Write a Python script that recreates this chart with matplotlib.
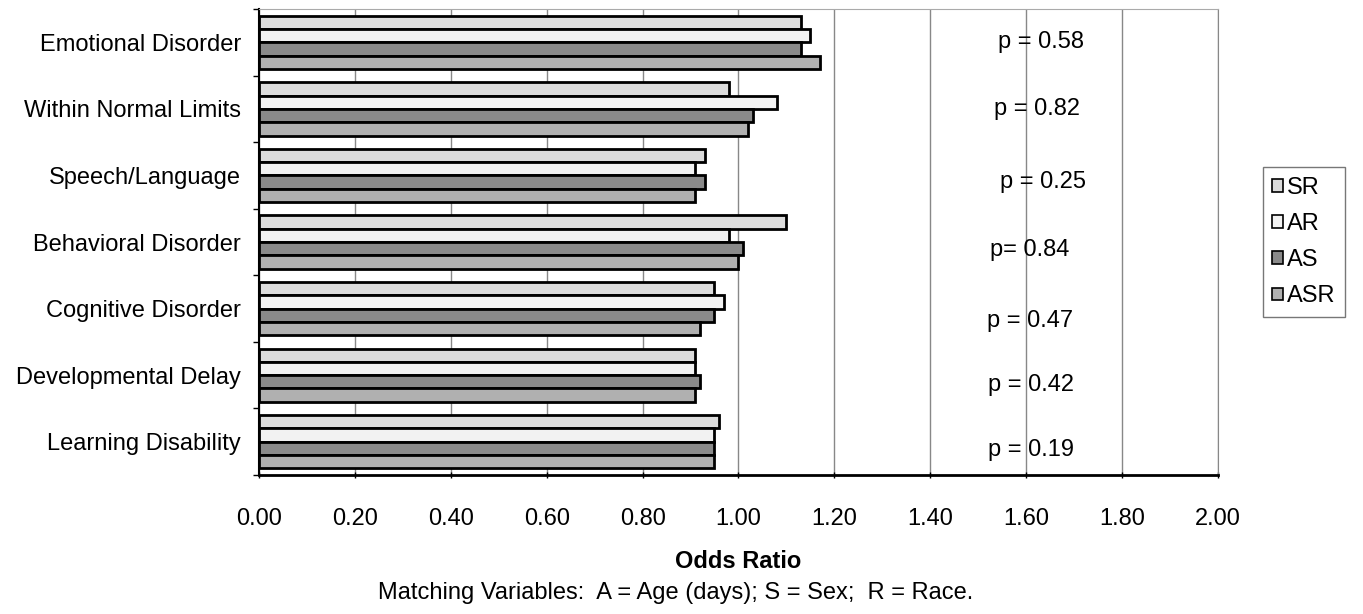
import matplotlib
matplotlib.use("Agg")
import matplotlib.pyplot as plt
import numpy as np

categories = ["Emotional Disorder", "Within Normal Limits", "Speech/Language",
              "Behavioral Disorder", "Cognitive Disorder", "Developmental Delay",
              "Learning Disability"]
series_names = ["SR", "AR", "AS", "ASR"]
SR = [1.13, 0.98, 0.93, 1.10, 0.95, 0.91, 0.96]
AR = [1.15, 1.08, 0.91, 0.98, 0.97, 0.91, 0.95]
AS = [1.13, 1.03, 0.93, 1.01, 0.95, 0.92, 0.95]
ASR = [1.17, 1.02, 0.91, 1.00, 0.92, 0.91, 0.95]
p_labels = ["p = 0.58", "p = 0.82", "p = 0.25", "p= 0.84", "p = 0.47", "p = 0.42", "p = 0.19"]
x_ticks = [0.0, 0.2, 0.4, 0.6, 0.8, 1.0, 1.2, 1.4, 1.6, 1.8, 2.0]

colors = ["#dcdcdc", "#f2f2f2", "#8a8a8a", "#b0b0b0"]
plt.rcParams['font.family'] = ['Liberation Sans', 'DejaVu Sans']
FS = 17

fig = plt.figure(figsize=(13.63, 6.14), dpi=100)
ax = fig.add_axes([0.19, 0.2264, 0.7036, 0.7589])

n = len(categories)
ypos = np.arange(n)
h = 0.2
values = [SR, AR, AS, ASR]
for i, (name, vals, c) in enumerate(zip(series_names, values, colors)):
    ax.barh(ypos - 0.3 + i * h, vals, height=h, color=c, edgecolor="black",
            linewidth=2.0, label=name, zorder=3)

ax.set_ylim(n - 0.5, -0.5)
ax.set_xlim(0, 2.0)
ax.set_xticks(x_ticks)
ax.set_xticklabels([f"{v:.2f}" for v in x_ticks], fontsize=FS)
ax.set_yticks(ypos)
ax.set_yticklabels(categories, fontsize=FS)
ax.tick_params(axis='y', length=0, pad=13)
ax.set_yticks(np.arange(n + 1) - 0.5, minor=True)
ax.tick_params(axis='y', which='minor', length=4, width=1)
ax.tick_params(axis='x', length=5, width=1, pad=21, direction='inout')

ax.grid(axis='x', color='#888888', linewidth=1.0, zorder=0)
ax.spines['left'].set_linewidth(1.5)
ax.spines['bottom'].set_linewidth(2.0)
ax.spines['top'].set_color('#aaaaaa')
ax.spines['right'].set_color('#888888')

p_x = [1.631, 1.622, 1.635, 1.608, 1.608, 1.610, 1.610]
p_dy = [0.0, 0.0, 0.1, 0.12, 0.18, 0.15, 0.12]
for y, lab, px, dy in zip(ypos, p_labels, p_x, p_dy):
    ax.text(px, y + dy, lab, ha='center', va='center', fontsize=FS, zorder=4)

ax.set_xlabel("Odds Ratio", fontsize=FS, fontweight='bold', labelpad=15)
fig.text(676 / 1363, 1 - 593 / 614, "Matching Variables:  A = Age (days); S = Sex;  R = Race.",
         ha='center', va='center', fontsize=FS)

leg = ax.legend(loc='center left', bbox_to_anchor=(1.047, 0.5), frameon=True,
                fancybox=False, edgecolor='#555555', fontsize=FS,
                handlelength=0.45, handleheight=0.45, handletextpad=0.15,
                labelspacing=0.6, borderpad=0.4, borderaxespad=0)
for hnd in leg.legend_handles:
    hnd.set_linewidth(1.2)

fig.savefig("out.png", dpi=100, facecolor='white')
